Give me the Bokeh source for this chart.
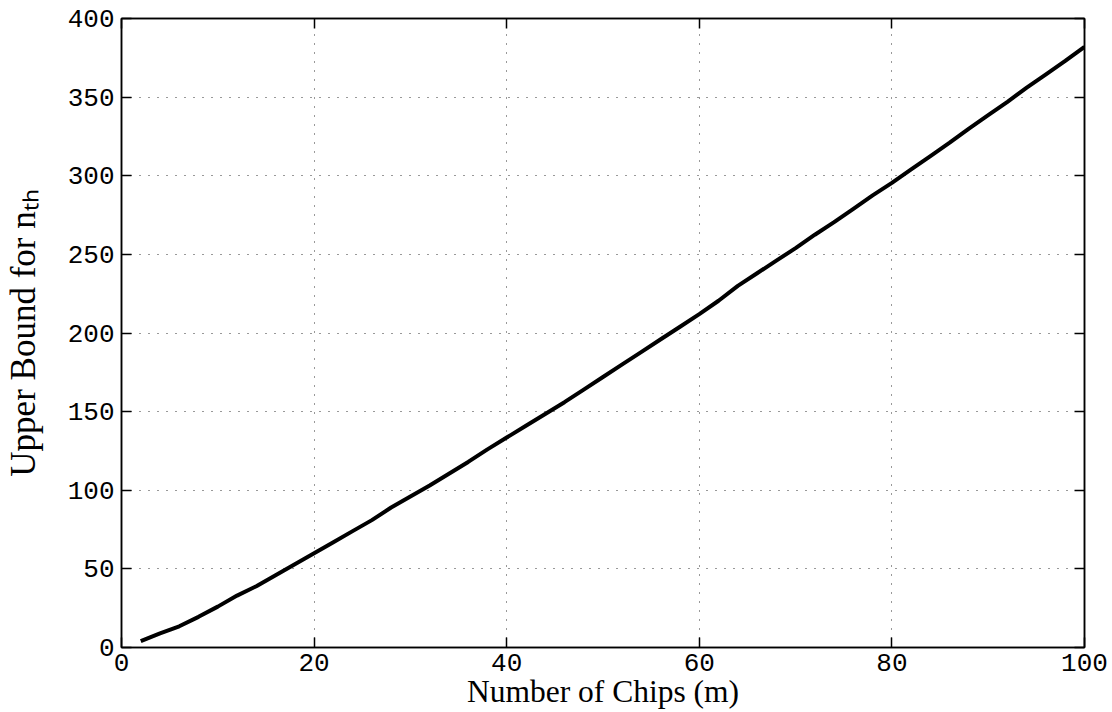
from bokeh.plotting import figure
from bokeh.models import LinearAxis, SingleIntervalTicker, Range1d
from bokeh.embed import file_html
from bokeh.resources import INLINE

# ---- data ----
m_chips = [2, 4, 6, 8, 10, 12, 14, 16, 18, 20,
           22, 24, 26, 28, 30, 32, 34, 36, 38, 40,
           42, 44, 46, 48, 50, 52, 54, 56, 58, 60,
           62, 64, 66, 68, 70, 72, 74, 76, 78, 80,
           82, 84, 86, 88, 90, 92, 94, 96, 98, 100]
upper_bound = [4, 9, 13.5, 19.5, 26, 33, 39, 46, 53, 60,
               67, 74, 81, 89, 96, 103, 110.5, 118, 126, 133.5,
               141, 148.5, 156, 164, 172, 180, 188, 196, 204, 212,
               220.5, 230, 238, 246, 254, 262.5, 270.5, 279, 287.5, 295.5,
               304, 312.5, 321, 330, 338.5, 347, 356, 364.5, 373, 382]
x_tick_interval = 20
y_tick_interval = 50
x_title = "Number of Chips (m)"
y_title = "Upper Bound for n\u209c\u2095"

SERIF = "Liberation Serif"
MONO = "Liberation Mono"

p = figure(width=1112, height=712,
           x_range=Range1d(0, 100), y_range=Range1d(0, 400),
           output_backend="svg", toolbar_location=None,
           min_border_left=119, min_border_right=28,
           min_border_top=18, min_border_bottom=65)
p.background_fill_color = "white"
p.border_fill_color = "white"
p.outline_line_color = "black"
p.outline_line_width = 1.5

p.xaxis.ticker = SingleIntervalTicker(interval=x_tick_interval)
p.yaxis.ticker = SingleIntervalTicker(interval=y_tick_interval)


def style_axis(ax, labels=True):
    ax.axis_line_color = "black"
    ax.axis_line_width = 1.5
    ax.major_tick_in = 10
    ax.major_tick_out = 0
    ax.major_tick_line_color = "black"
    ax.major_tick_line_width = 1.5
    ax.minor_tick_in = 0
    ax.minor_tick_out = 0
    ax.minor_tick_line_color = None
    if labels:
        ax.major_label_text_font = MONO
        ax.major_label_text_font_size = "26px"
        ax.major_label_text_color = "black"
        ax.axis_label_text_font = SERIF
        ax.axis_label_text_font_style = "normal"
        ax.axis_label_text_color = "black"
    else:
        ax.major_label_text_font_size = "0px"
        ax.major_label_text_color = None
        ax.major_label_standoff = 0


for ax in p.xaxis:
    style_axis(ax)
    ax.major_label_standoff = 6
    ax.axis_label = x_title
    ax.axis_label_text_font_size = "31.5px"
    ax.axis_label_standoff = 0
for ax in p.yaxis:
    style_axis(ax)
    ax.major_label_standoff = 7
    ax.axis_label = y_title
    ax.axis_label_text_font_size = "35px"
    ax.axis_label_standoff = 22

top_axis = LinearAxis(ticker=SingleIntervalTicker(interval=x_tick_interval))
style_axis(top_axis, labels=False)
p.add_layout(top_axis, "above")
right_axis = LinearAxis(ticker=SingleIntervalTicker(interval=y_tick_interval))
style_axis(right_axis, labels=False)
p.add_layout(right_axis, "right")

for g in (p.xgrid, p.ygrid):
    g.grid_line_color = "black"
    g.grid_line_alpha = 0.8
    g.grid_line_width = 1
    g.grid_line_dash = "1 8"
p.xgrid.ticker = SingleIntervalTicker(interval=x_tick_interval)
p.ygrid.ticker = SingleIntervalTicker(interval=y_tick_interval)

p.line(m_chips, upper_bound, line_color="black", line_width=4, line_join="round")

open("out.html", "w").write(file_html(p, INLINE))
